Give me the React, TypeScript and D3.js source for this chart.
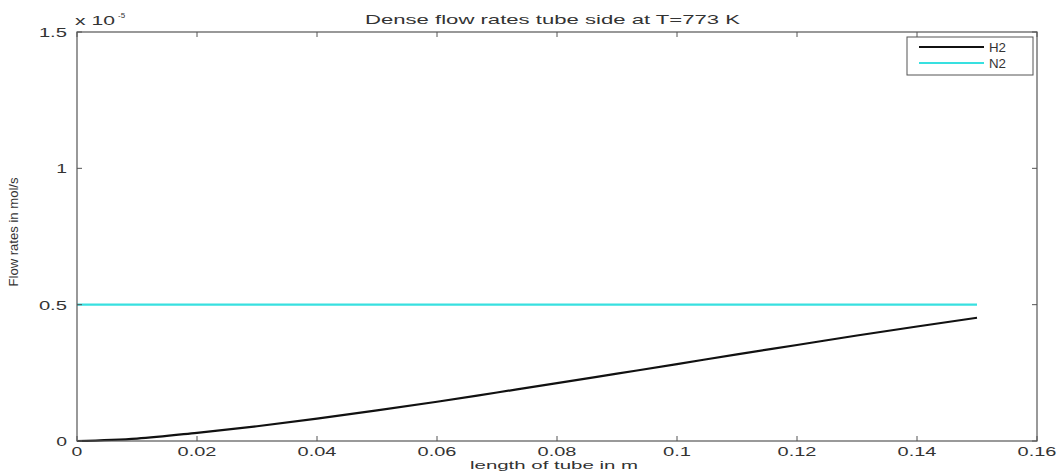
import React from "react";
import * as d3 from "d3";

const xValues = [0, 0.01, 0.02, 0.03, 0.04, 0.05, 0.06, 0.07, 0.08, 0.09, 0.1, 0.11, 0.12, 0.13, 0.14, 0.15];
const h2Values = [0, 0.009, 0.03, 0.054, 0.082, 0.112, 0.144, 0.178, 0.212, 0.247, 0.282, 0.318, 0.352, 0.387, 0.42, 0.452];
const n2Values = [0.5, 0.5, 0.5, 0.5, 0.5, 0.5, 0.5, 0.5, 0.5, 0.5, 0.5, 0.5, 0.5, 0.5, 0.5, 0.5];
const xTicks = [0, 0.02, 0.04, 0.06, 0.08, 0.1, 0.12, 0.14, 0.16];
const yTicks = [0, 0.5, 1, 1.5];
const seriesNames = ["H2", "N2"];
const seriesColors = ["#111111", "#38e0e0"];

function labelWidth(s: string) {
  let w = 0;
  for (const c of s) w += c === "." ? 6.5 : 10.8;
  return w;
}

export default function App() {
  const W = 1061, H = 472;
  const L = 77, R = 1037, T = 32, B = 441;
  const x = d3.scaleLinear().domain([0, 0.16]).range([L, R]);
  const y = d3.scaleLinear().domain([0, 1.5]).range([B, T]);
  const line = d3.line<number>().x((_, i) => x(xValues[i])).y((d) => y(d)).curve(d3.curveMonotoneX);
  const font = "Liberation Sans, Arial, sans-serif";
  const fmtX = (v: number) => (v === 0 ? "0" : String(+v.toFixed(2)));
  const series = [h2Values, n2Values];
  return (
    <svg width={W} height={H} style={{ position: "absolute", left: 0, top: 0, background: "#fff" }} fontFamily={font}>
      <rect x={0} y={0} width={W} height={H} fill="#fff" />
      {series.map((s, i) => (
        <path key={i} d={line(s) || ""} fill="none" stroke={seriesColors[i]} strokeWidth={2.2} />
      ))}
      <rect x={L} y={T} width={R - L} height={B - T} fill="none" stroke="#555" strokeWidth={1.2} />
      {xTicks.map((t) => {
        const s = fmtX(t);
        return (
          <g key={"x" + t}>
            <line x1={x(t)} x2={x(t)} y1={B} y2={B - 5} stroke="#555" />
            <line x1={x(t)} x2={x(t)} y1={T} y2={T + 5} stroke="#555" />
            <text x={x(t)} y={456} textAnchor="middle" fontSize={13} fill="#333" textLength={labelWidth(s)} lengthAdjust="spacingAndGlyphs">{s}</text>
          </g>
        );
      })}
      {yTicks.map((t) => {
        const s = String(t);
        return (
          <g key={"y" + t}>
            <line x1={L} x2={L + 5} y1={y(t)} y2={y(t)} stroke="#555" />
            <line x1={R} x2={R - 5} y1={y(t)} y2={y(t)} stroke="#555" />
            <text x={67 - labelWidth(s)} y={y(t) + 5} fontSize={13} fill="#333" textLength={labelWidth(s)} lengthAdjust="spacingAndGlyphs">{s}</text>
          </g>
        );
      })}
      <text x={75} y={25} fontSize={12} fill="#333" textLength={40} lengthAdjust="spacingAndGlyphs">x 10</text>
      <text x={118} y={18} fontSize={8} fill="#333">-5</text>
      <text x={365} y={24} fontSize={13} fill="#333" textLength={375} lengthAdjust="spacingAndGlyphs">Dense flow rates tube side  at T=773 K</text>
      <text x={470} y={469} fontSize={11} fill="#333" textLength={168} lengthAdjust="spacingAndGlyphs">length of tube in m</text>
      <text transform="translate(18,232) rotate(-90)" textAnchor="middle" fontSize={12} fill="#333" textLength={109} lengthAdjust="spacingAndGlyphs">Flow rates in mol/s</text>
      <rect x={907} y={37} width={126} height={38} fill="#fff" stroke="#555" strokeWidth={1} />
      {seriesNames.map((n, i) => (
        <g key={n}>
          <line x1={919} x2={984} y1={47 + i * 16} y2={47 + i * 16} stroke={seriesColors[i]} strokeWidth={2.2} />
          <text x={989} y={52 + i * 16} fontSize={12} fill="#333" textLength={17} lengthAdjust="spacingAndGlyphs">{n}</text>
        </g>
      ))}
    </svg>
  );
}
